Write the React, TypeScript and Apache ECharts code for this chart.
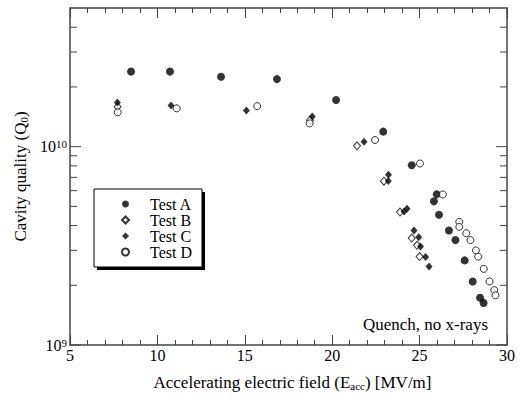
import React, { useEffect, useRef } from "react";
import * as echarts from "echarts";

// ---- data ----
const testA_x = [8.49, 10.72, 13.64, 16.84, 20.22, 22.92, 24.55, 25.98, 25.82, 26.11, 26.68, 27.05, 27.58, 28.04, 28.46, 28.66];
const testA_q = [2.39e10, 2.39e10, 2.25e10, 2.19e10, 1.72e10, 1.19e10, 8.06e9, 5.75e9, 5.3e9, 4.54e9, 3.78e9, 3.38e9, 2.67e9, 2.09e9, 1.73e9, 1.63e9];

const testB_x = [7.72, 18.73, 21.42, 22.96, 23.88, 24.55, 24.85, 25.0];
const testB_q = [1.59e10, 1.36e10, 1.01e10, 6.7e9, 4.68e9, 3.46e9, 3.18e9, 2.79e9];

const testC_x = [7.71, 10.78, 15.09, 18.86, 21.82, 23.22, 23.21, 24.11, 24.28, 24.68, 24.95, 25.05, 25.34, 25.54];
const testC_q = [1.67e10, 1.61e10, 1.52e10, 1.42e10, 1.06e10, 7.21e9, 6.71e9, 4.71e9, 4.86e9, 3.78e9, 3.49e9, 3.14e9, 2.78e9, 2.49e9];

const testD_x = [7.73, 11.1, 15.71, 18.71, 22.45, 25.02, 26.33, 27.27, 27.27, 27.67, 27.91, 28.22, 28.35, 28.67, 29.0, 29.27, 29.34];
const testD_q = [1.49e10, 1.56e10, 1.6e10, 1.31e10, 1.08e10, 8.22e9, 5.74e9, 4.18e9, 3.94e9, 3.66e9, 3.38e9, 3.0e9, 2.79e9, 2.42e9, 2.09e9, 1.89e9, 1.78e9];

const seriesNames = ["Test A", "Test B", "Test C", "Test D"];

const xMin = 5;
const xMax = 30;
const xInterval = 5;
const yMin = 1e9;
const yMax = 5e10;
const yMajorTicks = [1e9, 1e10];
const yMinorTicks = [2e9, 3e9, 4e9, 5e9, 6e9, 7e9, 8e9, 9e9, 2e10, 3e10, 4e10];

const FONT = "'Liberation Serif', 'Times New Roman', serif";
const AXIS_COLOR = "#444";

const zip = (xs: number[], ys: number[]) => xs.map((x, i) => [x, ys[i]]);

export default function App() {
  const ref = useRef<HTMLDivElement>(null);

  useEffect(() => {
    if (!ref.current) return;
    const chart = echarts.init(ref.current, null, { renderer: "svg" });

    const tickData = [
      ...yMajorTicks.map((v) => [xMin, v, 11]),
      ...yMinorTicks.map((v) => [xMin, v, 7]),
    ];

    const xAxisCommon = {
      type: "value" as const,
      min: xMin,
      max: xMax,
      interval: xInterval,
      splitLine: { show: false },
      axisLine: { show: true, onZero: false, lineStyle: { color: AXIS_COLOR, width: 1.5 } },
      axisTick: { show: true, inside: true, length: 10, lineStyle: { color: AXIS_COLOR, width: 1 } },
      minorTick: { show: true, splitNumber: 5, length: 5, lineStyle: { color: AXIS_COLOR, width: 1 } },
      minorSplitLine: { show: false },
    };

    const option: any = {
      animation: false,
      backgroundColor: "#fff",
      textStyle: { fontFamily: FONT },
      grid: { left: 70, right: 13, top: 8, bottom: 51, containLabel: false },
      xAxis: [
        {
          ...xAxisCommon,
          position: "bottom",
          axisLabel: { show: true, fontSize: 16, color: "#000", fontFamily: FONT, margin: 2 },
          name: "Accelerating electric field (E{sub|acc}) [MV/m]",
          nameLocation: "middle",
          nameGap: 28,
          nameTextStyle: {
            fontSize: 17,
            color: "#000",
            fontFamily: FONT,
            padding: [0, 0, 0, 8],
            rich: {
              sub: { fontSize: 11, fontFamily: FONT, color: "#000", verticalAlign: "bottom", padding: [7, 0, 0, 0] },
            },
          },
        },
        {
          ...xAxisCommon,
          position: "top",
          axisLabel: { show: false },
        },
      ],
      yAxis: [
        {
          type: "log",
          logBase: 10,
          min: yMin,
          max: yMax,
          position: "left",
          splitLine: { show: false },
          axisLine: { show: true, onZero: false, lineStyle: { color: AXIS_COLOR, width: 1.5 } },
          axisTick: { show: false },
          axisLabel: {
            show: true,
            margin: 3,
            color: "#000",
            fontSize: 16,
            fontFamily: FONT,
            formatter: (v: number) => {
              const e = Math.round(Math.log10(v));
              if (Math.abs(v - Math.pow(10, e)) / v < 1e-6) return `10{sup|${e}}`;
              return "";
            },
            rich: {
              sup: { fontSize: 11, fontFamily: FONT, color: "#000", verticalAlign: "top", padding: [0, 0, 5, 0] },
            },
          },
          name: "Cavity quality (Q{sub|0})",
          nameLocation: "middle",
          nameGap: 41,
          nameTextStyle: {
            fontSize: 17,
            color: "#000",
            fontFamily: FONT,
            rich: {
              sub: { fontSize: 11, fontFamily: FONT, color: "#000", verticalAlign: "bottom", padding: [7, 0, 0, 0] },
            },
          },
        },
        {
          type: "log",
          logBase: 10,
          min: yMin,
          max: yMax,
          position: "right",
          splitLine: { show: false },
          axisLine: { show: true, onZero: false, lineStyle: { color: AXIS_COLOR, width: 1.5 } },
          axisTick: { show: false },
          axisLabel: { show: false },
        },
      ],
      legend: {
        data: seriesNames,
        orient: "vertical",
        left: 121,
        top: 196,
        padding: 0,
        itemWidth: 7,
        itemHeight: 7,
        itemGap: 0,
        selectedMode: false,
        textStyle: { fontSize: 16, color: "#000", fontFamily: FONT, lineHeight: 16, padding: [0, 0, 0, 16] },
        z: 10,
      },
      graphic: [
        { type: "rect", shape: { x: 97, y: 192, width: 108, height: 78 }, style: { fill: "#000" }, z: 5 },
        { type: "rect", shape: { x: 94, y: 189, width: 108, height: 78 }, style: { fill: "#fff", stroke: "#000", lineWidth: 1 }, z: 6 },
        {
          type: "text",
          x: 488,
          y: 324,
          style: { text: "Quench, no x-rays", fontSize: 17, fontFamily: FONT, fill: "#000", textAlign: "right", textVerticalAlign: "middle" },
          z: 6,
        },
      ],
      series: [
        {
          name: "Test A",
          type: "scatter",
          data: zip(testA_x, testA_q),
          symbol: "circle",
          symbolSize: 8,
          itemStyle: { color: "#000" },
        },
        {
          name: "Test B",
          type: "scatter",
          data: zip(testB_x, testB_q),
          symbol: "diamond",
          symbolSize: [7, 8],
          itemStyle: { color: "#fff", borderColor: "#000", borderWidth: 1 },
        },
        {
          name: "Test C",
          type: "scatter",
          data: zip(testC_x, testC_q),
          symbol: "diamond",
          symbolSize: [7, 8],
          itemStyle: { color: "#000" },
        },
        {
          name: "Test D",
          type: "scatter",
          data: zip(testD_x, testD_q),
          symbol: "circle",
          symbolSize: 7,
          itemStyle: { color: "#fff", borderColor: "#000", borderWidth: 1 },
        },
        {
          name: "yticks",
          type: "custom",
          silent: true,
          clip: false,
          encode: { x: 0, y: 1 },
          data: tickData,
          renderItem: (params: any, api: any) => {
            const v = api.value(1);
            const len = api.value(2);
            const pl = api.coord([xMin, v]);
            const pr = api.coord([xMax, v]);
            const st = { stroke: AXIS_COLOR, lineWidth: 1 };
            return {
              type: "group",
              children: [
                { type: "line", shape: { x1: pl[0], y1: pl[1], x2: pl[0] + len, y2: pl[1] }, style: st },
                { type: "line", shape: { x1: pr[0] - len, y1: pr[1], x2: pr[0], y2: pr[1] }, style: st },
              ],
            };
          },
        },
      ],
    };

    chart.setOption(option);
    return () => chart.dispose();
  }, []);

  return (
    <div
      ref={ref}
      style={{ position: "fixed", left: 0, top: 0, width: 520, height: 396, background: "#fff" }}
    />
  );
}
